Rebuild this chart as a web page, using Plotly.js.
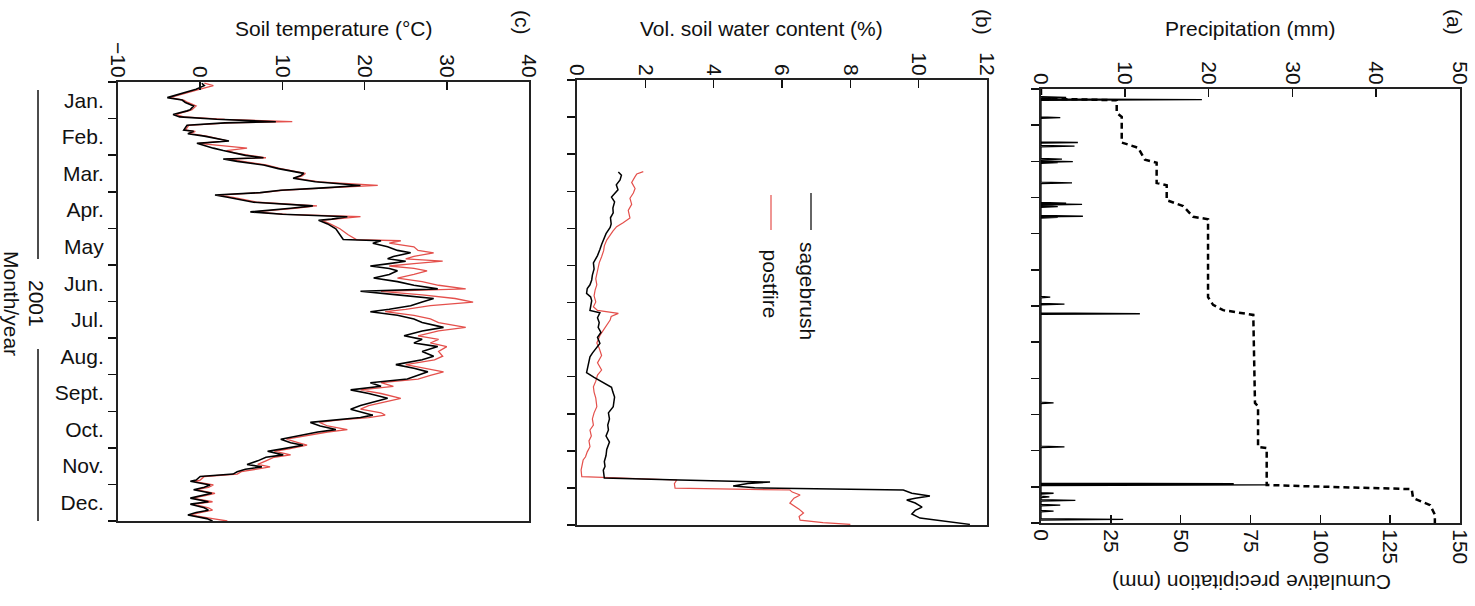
<!DOCTYPE html>
<html><head><meta charset="utf-8">
<script src="https://cdn.plot.ly/plotly-3.0.1.min.js"></script>
<style>html,body{margin:0;padding:0;background:#fff}#chart{width:1475px;height:606px}</style>
</head><body><div id="chart"></div>
<script>
// ---------- data ----------
const monthLabels = ['Jan.','Feb.','Mar.','Apr.','May','Jun.','Jul.','Aug.','Sept.','Oct.','Nov.','Dec.'];

// (c) soil temperature, °C, by day of year 2001
const tempDays = [1,3,6,10,13,15,17,20,23,24,27,29,31,33,34,36,38,40,41,43,45,47,49,51,53,55,57,59,61,63,64,66,69,72,76,78,80,83,86,88,90,92,94,96,98,100,103,105,108,110,112,114,115,118,122,127,131,132,134,137,140,142,145,147,149,151,153,155,157,160,163,166,169,172,174,177,180,183,186,189,191,194,197,200,204,207,211,214,217,220,224,228,231,235,238,241,244,247,250,253,256,259,263,266,269,272,275,277,279,281,283,286,289,291,294,297,300,302,305,307,310,312,315,318,320,322,324,326,328,331,332,335,337,339,342,344,346,349,351,354,356,358,360,363,365];
const tempSagebrush = [0.2,0.5,-0.5,-2.5,-4,-2.2,-1.8,-0.8,-1.2,-1.6,-3.3,-2.5,2,9.2,3,-1.6,-1.8,-2,-0.8,-1.5,0.5,2,3.5,-0.4,0.5,1.6,2.8,4,5.5,7.7,2.8,4.5,7.7,9.5,12.6,12.2,11.3,14,19.5,15,9.8,7.3,1.8,3.5,4.9,6.5,13.7,11,6.1,10,17.9,16,14.4,15.5,16.5,17,17.4,22,21,22.8,24,25.6,23.5,22.8,25,23,20.7,23,24,23,21.1,24,26,28.9,19.5,24,28.4,27,25.6,23,20.7,24,26,27,29.6,27,24.8,27,26,28.9,27,28.4,27,23.8,26,27.7,26.5,25.2,20.7,22,18.3,20.5,22.8,21,19.5,18.3,20,21,19.5,16,13.4,14.6,16.5,14.3,12,9.8,11,12.5,10,8.2,10.1,8,7,5.7,7.5,5.5,4.5,4,0,-0.5,-1.2,1.2,0.5,-0.8,1.4,0,-1.2,1.0,-1.2,0.5,1.0,-0.5,-1.5,0.8,1.5];
const tempPostfire = [0.5,1.6,0,-2.2,-3.7,-2,-1.5,-0.5,-1,-1.4,-3,-2,3,11.2,3.5,-1.4,-1.6,-1.8,-0.6,-1.2,0.8,2.2,3.3,-0.2,2.5,5.7,3.2,4.2,6,8,3.2,5,8,9.8,12.8,12.4,11.5,14.5,21.6,15.5,10,7.5,2.2,4,5.5,7,14.2,11.5,6.5,10.5,19.5,16.5,14.8,15.8,17,18,19,24.4,23,26,26.5,28.4,26,25,29.5,26,23,26,27.6,26,24,27,29,32.3,22,27,31,33.2,28,25,22.5,26,28,29,32.3,29,26.5,29,28,30,29,29.5,28.5,25,27.5,29.6,28,26.5,22,23.5,19.5,22,24.4,22.5,20.5,19.5,22,22.5,20.5,17,14.5,15.5,17.9,15.5,13,10.5,12,13,10.8,9,11,9,8,7,8.5,6.5,5,4.5,0.5,0,-0.8,1.6,1,-0.5,1.8,0.5,-1,1.5,-0.8,1,1.5,0,-1.2,1.5,3.3];

// (b) volumetric soil water content, %
const vwcSageDays = [75.5,78,82,86,90,96,100,105,109,113,118,121,126,131,135,139,144,150,155,160,164,168,171,175,178,181,185,189,191,195,199,203,207,211,216,220,224,227,231,236,240,244,248,252,256,260,264,268,273,278,283,287,292,297,303,308,313,317,320,324,326.5,328,329.8,331,333,334.5,336.3,339,341.3,343,344.5,347,350.3,353,356,359.3,362,364.5];
const vwcSagebrush = [1.21,1.3,1.26,1.15,1.2,1.01,1.1,1.05,1.06,0.98,1.0,0.97,0.85,0.77,0.72,0.67,0.6,0.48,0.5,0.45,0.43,0.38,0.3,0.28,0.4,0.43,0.4,0.38,0.67,0.6,0.65,0.62,0.7,0.6,0.67,0.55,0.45,0.38,0.35,0.3,0.28,0.5,0.75,1.01,1.05,1.1,1.08,1.06,0.92,0.95,0.9,0.92,0.85,0.95,0.87,0.85,0.8,0.82,0.77,0.8,0.8,3.0,5.65,5.0,4.57,5.2,9.55,9.8,10.33,9.9,9.65,9.9,10.1,9.9,9.8,10.04,10.8,11.5];
const vwcPostDays = [75.2,77,79.3,84,89,92.7,97,102,107,113.2,117,120.3,124,128,131.3,136,140,145,150,154,158.3,163,168,172.3,177,182,186,189,191.4,194,196.9,200,205.1,209,215.7,220,226,232,237.9,242,247,251.6,256,261,268,273,278,283,287.1,292,296,300.8,305,309,311.7,316,320,325.4,327,328.1,331,334.7,336.3,338,340.4,343,347,350,352,355.2,358,361,363,364.5];
const vwcPostfire = [1.94,1.75,1.7,1.6,1.7,1.65,1.55,1.6,1.5,1.55,1.35,1.16,1.05,0.95,0.87,0.8,0.78,0.72,0.65,0.62,0.58,0.55,0.58,0.53,0.5,0.55,0.48,0.6,1.21,1.0,0.97,0.9,0.77,0.68,0.58,0.65,0.72,0.6,0.72,0.6,0.55,0.48,0.5,0.55,0.58,0.5,0.45,0.48,0.38,0.42,0.35,0.38,0.3,0.25,0.18,0.15,0.12,0.14,1.5,2.92,2.85,2.87,6.23,6.3,6.53,6.35,6.23,6.4,6.5,6.63,6.5,6.53,7.2,8.0];

// (a) daily precipitation (mm) and cumulative precipitation (mm)
const precipDays = [7,9,24,45,48,59,61,62,79,96,97,99,107,108,175,181,189,264,301,332,333,340,343,346,350,355,362];
const precipMm = [3.0,19.2,2.3,4.4,4.0,2.5,3.8,2.0,3.7,3.0,4.9,2.0,5.0,2.0,1.1,2.8,11.8,1.5,2.8,23,27,1.5,1.0,4.1,2.3,1.5,9.8];
const cumDays = [0,8,9.5,20,23.5,45,49.5,59.5,62,79,81,93.5,98.5,107.5,109.5,175,181.5,186,190,264,267,301,302,333,334,336.5,344,350,358,365];
const cumMm = [0,0,27.1,27.1,28.9,28.9,34.8,37.2,41.4,41.4,45,45,50.9,54.5,59.8,59.8,61.6,65.2,76,76.6,77.7,77.7,80.8,80.8,93.9,132.7,133.2,139.3,141,141];

const tempTicks = [-10,0,10,20,30,40];
const vwcTicks = [0,2,4,6,8,10,12];
const precipTicks = [0,10,20,30,40,50];
const cumTicks = [0,25,50,75,100,125,150];

// ---------- layout helpers ----------
const W = 1475, H = 606;
const px = x => x / W;
const py = y => 1 - y / H;
const FONT = 'Liberation Sans, Arial, Helvetica, sans-serif';
const FS = 21;
const monthBounds = Array.from({length: 13}, (_, i) => i * 365 / 12);
const monthMids = monthLabels.map((_, i) => (i + 0.5) * 365 / 12);

function valueAxis(dom, range, ticks, anchor, side) {
  return {
    domain: dom, range: range, autorange: false, anchor: anchor, side: side,
    tickmode: 'array', tickvals: ticks, ticks: 'inside', ticklen: 8, tickwidth: 1.5, tickcolor: '#111',
    tickangle: 90, ticklabelstandoff: side === 'top' ? -5 : 0, tickfont: {family: FONT, size: FS, color: '#111'},
    showline: true, mirror: true, linecolor: '#222', linewidth: 2,
    showgrid: false, zeroline: false
  };
}
function dayAxis(dom, anchor, labels) {
  return {
    domain: dom, range: [365, 0], autorange: false, anchor: anchor,
    tickmode: 'array', tickvals: monthMids, ticktext: monthLabels, showticklabels: labels,
    ticks: 'outside', ticklen: 8, tickcolor: 'rgba(0,0,0,0)',
    minor: {tickmode: 'array', tickvals: monthBounds, ticks: 'outside', ticklen: 8, tickwidth: 1.5, tickcolor: '#111'},
    tickfont: {family: FONT, size: FS, color: '#111'},
    showline: true, mirror: true, linecolor: '#222', linewidth: 2,
    showgrid: false, zeroline: false
  };
}

// precipitation as thin spikes built from the daily values
const spikeX = [], spikeY = [];
precipDays.forEach((d, i) => {
  spikeX.push(0, precipMm[i], 0);
  spikeY.push(d - 0.6, d, d + 0.6);
});

const RED = '#e4504c';
const traces = [
  {x: tempPostfire, y: tempDays, xaxis: 'x', yaxis: 'y', mode: 'lines', line: {color: RED, width: 1.3}, name: 'postfire'},
  {x: tempSagebrush, y: tempDays, xaxis: 'x', yaxis: 'y', mode: 'lines', line: {color: '#000', width: 1.6}, name: 'sagebrush'},
  {x: vwcPostfire, y: vwcPostDays, xaxis: 'x2', yaxis: 'y2', mode: 'lines', line: {color: RED, width: 1.2}, name: 'postfire'},
  {x: vwcSagebrush, y: vwcSageDays, xaxis: 'x2', yaxis: 'y2', mode: 'lines', line: {color: '#000', width: 1.5}, name: 'sagebrush'},
  {x: spikeX, y: spikeY, xaxis: 'x3', yaxis: 'y3', mode: 'lines', line: {color: '#000', width: 1.3}, name: 'precipitation'},
  {x: cumMm, y: cumDays, xaxis: 'x4', yaxis: 'y3', mode: 'lines', line: {color: '#000', width: 2.5, dash: '6px,4px'}, name: 'cumulative'}
];

const xa4 = valueAxis([px(1041), px(1460)], [0, 150], cumTicks, 'y3', 'bottom');
xa4.overlaying = 'x3';
xa4.mirror = false;

const layout = {
  width: W, height: H, margin: {l: 0, r: 0, t: 0, b: 0},
  paper_bgcolor: '#fff', plot_bgcolor: '#fff', showlegend: false,
  font: {family: FONT, size: FS, color: '#111'},
  xaxis: valueAxis([px(118), px(529)], [-10, 40], tempTicks, 'y', 'top'),
  yaxis: dayAxis([py(521), py(82)], 'x', true),
  xaxis2: valueAxis([px(577), px(987)], [0, 12], vwcTicks, 'y2', 'top'),
  yaxis2: dayAxis([py(525), py(80)], 'x2', false),
  xaxis3: valueAxis([px(1041), px(1460)], [0, 50], precipTicks, 'y3', 'top'),
  yaxis3: dayAxis([py(523), py(89)], 'x3', false),
  xaxis4: xa4,
  annotations: [
    {text: 'Soil temperature (°C)', x: px(333), y: py(28)},
    {text: 'Vol. soil water content (%)', x: px(762), y: py(28)},
    {text: 'Precipitation (mm)', x: px(1250), y: py(28)},
    {text: '(c)', x: px(522), y: py(22), textangle: 90},
    {text: '(b)', x: px(983), y: py(22), textangle: 90},
    {text: '(a)', x: px(1454), y: py(22), textangle: 90},
    {text: 'Cumulative precipitation (mm)', x: px(1252), y: py(583), textangle: 180},
    {text: '2001', x: px(37), y: py(303), textangle: 90},
    {text: 'Month/year', x: px(12), y: py(303), textangle: 90},
    {text: 'sagebrush', x: px(808), y: py(240), yanchor: 'top', textangle: 90},
    {text: 'postfire', x: px(770), y: py(247), yanchor: 'top', textangle: 90}
  ].map(a => Object.assign({xref: 'paper', yref: 'paper', showarrow: false, xanchor: 'center', yanchor: 'middle',
                            font: {family: FONT, size: FS, color: '#111'}}, a)),
  shapes: [
    {type: 'line', xref: 'paper', yref: 'paper', x0: px(38), x1: px(38), y0: py(90), y1: py(259), line: {color: '#111', width: 1.5}},
    {type: 'line', xref: 'paper', yref: 'paper', x0: px(38), x1: px(38), y0: py(349), y1: py(521), line: {color: '#111', width: 1.5}},
    {type: 'line', xref: 'paper', yref: 'paper', x0: px(811), x1: px(811), y0: py(193), y1: py(230), line: {color: '#333', width: 1.5}},
    {type: 'line', xref: 'paper', yref: 'paper', x0: px(771), x1: px(771), y0: py(195), y1: py(230), line: {color: RED, width: 1.2}}
  ]
};

Plotly.newPlot('chart', traces, layout, {staticPlot: true, displayModeBar: false});
</script>
</body></html>
